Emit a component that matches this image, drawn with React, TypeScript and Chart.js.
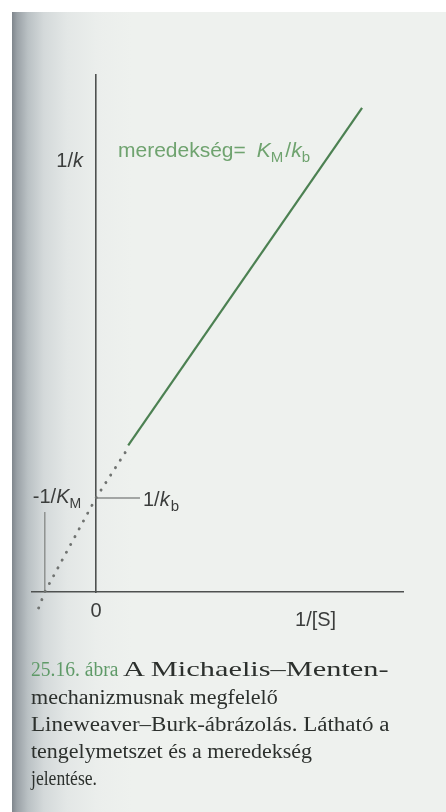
import React, { useEffect, useLayoutEffect, useRef } from 'react';
import { Chart, registerables } from 'chart.js';

Chart.register(...registerables);

// ---- data (arbitrary units: -1/K_M = -1, 1/k_b = 1) ----
const xAxisRange = [-1.25, 6];
const yAxisRange = [0, 5.5];
const solidLineX = [0.63, 5.2];
const solidLineY = [1.56, 5.15];
const dottedLineX = [-1.12, -1, 0, 0.59];
const dottedLineY = [-0.17, 0, 1, 1.5];
const kmMarkerX = [-1, -1];
const kmMarkerY = [0, 0.85];
const kbTickX = [0, 0.86];
const kbTickY = [1, 1];

type Part = { t: string; it?: boolean; sub?: boolean };
const yAxisLabel: Part[] = [{ t: '1/' }, { t: 'k', it: true }];
const slopeLabel: Part[] = [{ t: 'meredekség=' }, { t: 'K', it: true }, { t: 'M', sub: true }, { t: '/' }, { t: 'k', it: true }, { t: 'b', sub: true }];
const kmLabel: Part[] = [{ t: '-1/' }, { t: 'K', it: true }, { t: 'M', sub: true }];
const kbLabel: Part[] = [{ t: '1/' }, { t: 'k', it: true }, { t: 'b', sub: true }];
const originLabel = '0';
const xAxisLabel = '1/[S]';

const captionNumber = '25.16. ábra';
const captionLines = [
  'A Michaelis–Menten-',
  'mechanizmusnak megfelelő',
  'Lineweaver–Burk-ábrázolás. Látható a',
  'tengelymetszet és a meredekség',
  'jelentése.',
];

const pts = (xs: number[], ys: number[]) => xs.map((x, i) => ({ x, y: ys[i] }));

const SANS = '"Liberation Sans", Arial, Helvetica, sans-serif';

function drawRich(ctx: CanvasRenderingContext2D, parts: Part[], x: number, y: number, size: number, subSize: number, gaps: number[] = []) {
  let cx = x;
  parts.forEach((p, i) => {
    cx += gaps[i] || 0;
    const fs = p.sub ? subSize : size;
    ctx.font = `${p.it ? 'italic ' : ''}${fs}px ${SANS}`;
    ctx.fillText(p.t, cx, p.sub ? y + 5 : y);
    cx += ctx.measureText(p.t).width;
  });
}

const labelPlugin = {
  id: 'labels',
  afterDraw(chart: any) {
    const ctx: CanvasRenderingContext2D = chart.ctx;
    const xs = chart.scales.x;
    const ys = chart.scales.y;
    const x0 = xs.getPixelForValue(0);
    const y0 = ys.getPixelForValue(0);
    const yKb = ys.getPixelForValue(kbTickY[0]);
    ctx.save();
    ctx.textBaseline = 'alphabetic';
    ctx.fillStyle = '#3b3d3c';
    let w = 0;
    yAxisLabel.forEach((p) => {
      ctx.font = `${p.it ? 'italic ' : ''}20px ${SANS}`;
      w += ctx.measureText(p.t).width;
    });
    drawRich(ctx, yAxisLabel, x0 - 13 - w, ys.getPixelForValue(4.52), 20, 14);
    drawRich(ctx, kmLabel, xs.getPixelForValue(kmMarkerX[0]) - 12, yKb + 5, 20, 14);
    drawRich(ctx, kbLabel, xs.getPixelForValue(kbTickX[1]) + 3, yKb + 8, 20, 15, [0, 0, 1]);
    ctx.font = `20px ${SANS}`;
    ctx.textAlign = 'center';
    ctx.fillText(originLabel, x0, y0 + 25);
    ctx.textAlign = 'left';
    ctx.fillText(xAxisLabel, xs.getPixelForValue(3.89), y0 + 34);
    ctx.fillStyle = '#6fa36f';
    drawRich(ctx, slopeLabel, x0 + 22, ys.getPixelForValue(4.63), 21, 15, [0, 11, 0, 2, 0, 0]);
    ctx.restore();
  },
};

function LBChart() {
  const ref = useRef<HTMLCanvasElement>(null);
  useEffect(() => {
    if (!ref.current) return;
    const chart = new Chart(ref.current, {
      type: 'scatter',
      data: {
        datasets: [
          {
            data: pts(dottedLineX, dottedLineY),
            showLine: true,
            borderColor: '#707371',
            borderWidth: 2.9,
            borderDash: [0.1, 8.8],
            borderCapStyle: 'round',
            pointRadius: 0,
            clip: false as any,
          },
          {
            data: pts(solidLineX, solidLineY),
            showLine: true,
            borderColor: '#4c8152',
            borderWidth: 2.2,
            pointRadius: 0,
          },
          {
            data: pts(kmMarkerX, kmMarkerY),
            showLine: true,
            borderColor: '#8a8d8b',
            borderWidth: 1.4,
            pointRadius: 0,
          },
          {
            data: pts(kbTickX, kbTickY),
            showLine: true,
            borderColor: '#8a8d8b',
            borderWidth: 1.4,
            pointRadius: 0,
          },
        ],
      },
      options: {
        animation: false,
        responsive: false,
        devicePixelRatio: 1,
        events: [],
        layout: { padding: { left: 32, right: 43, top: 75, bottom: 220 } },
        plugins: { legend: { display: false }, tooltip: { enabled: false } },
        scales: {
          x: {
            type: 'linear',
            position: 'bottom',
            min: xAxisRange[0],
            max: xAxisRange[1],
            grid: { display: false, drawTicks: false },
            ticks: { display: false },
            border: { display: true, color: '#4e5150', width: 1.6 },
          },
          y: {
            type: 'linear',
            position: { x: 0 } as any,
            min: yAxisRange[0],
            max: yAxisRange[1],
            grid: { display: false, drawTicks: false },
            ticks: { display: false },
            border: { display: true, color: '#4e5150', width: 1.6 },
          },
        },
      },
      plugins: [labelPlugin],
    } as any);
    return () => chart.destroy();
  }, []);
  return <canvas ref={ref} width={446} height={812} style={{ position: 'absolute', left: 0, top: 0, display: 'block' }} />;
}

const captionSegments: { text: string; green?: boolean; left: number; right: number; baseline: number; fs: number }[] = [
  { text: captionNumber, green: true, left: 31, right: 118, baseline: 676, fs: 20 },
  { text: captionLines[0], left: 123, right: 388, baseline: 676, fs: 22 },
  { text: captionLines[1], left: 31, right: 278, baseline: 703.5, fs: 20 },
  { text: captionLines[2], left: 31, right: 390, baseline: 731, fs: 20 },
  { text: captionLines[3], left: 31, right: 312, baseline: 758, fs: 20 },
  { text: captionLines[4], left: 31, right: 97, baseline: 785, fs: 20 },
];

function Caption() {
  const refs = useRef<(HTMLDivElement | null)[]>([]);
  useLayoutEffect(() => {
    refs.current.forEach((el, i) => {
      if (!el) return;
      const w = el.scrollWidth;
      const target = captionSegments[i].right - captionSegments[i].left;
      el.style.transform = `scaleX(${target / w})`;
    });
  }, []);
  return (
    <>
      {captionSegments.map((seg, i) => (
        <div
          key={i}
          ref={(el) => { refs.current[i] = el; }}
          style={{
            position: 'absolute',
            left: seg.left,
            top: seg.baseline - seg.fs * 0.8375,
            fontFamily: '"Liberation Serif", "DejaVu Serif", serif',
            fontSize: seg.fs,
            lineHeight: `${seg.fs}px`,
            whiteSpace: 'nowrap',
            color: seg.green ? '#5f9a68' : '#2c302d',
            transformOrigin: 'left top',
          }}
        >
          {seg.text}
        </div>
      ))}
    </>
  );
}

export default function App() {
  return (
    <div style={{ position: 'fixed', left: 0, top: 0, width: 446, height: 812, background: '#ffffff', overflow: 'hidden' }}>
      <div
        style={{
          position: 'absolute',
          left: 12,
          top: 12,
          right: 0,
          bottom: 0,
          background:
            'linear-gradient(to right, #7f868c 0px, #9aa1a6 5px, #bac1c4 16px, #d4d9da 32px, #e3e7e6 55px, #ebeeec 85px, #eef1ee 120px)',
        }}
      />
      <LBChart />
      <Caption />
    </div>
  );
}
